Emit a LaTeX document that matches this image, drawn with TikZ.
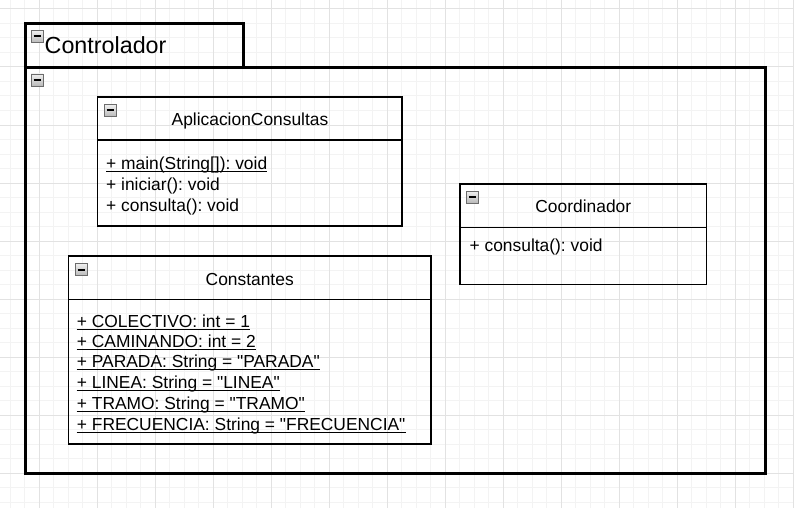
\documentclass[tikz,border=0pt]{standalone}
\usepackage{fontspec}
\setmainfont{Liberation Sans}[Ligatures=TeXOff]
\definecolor{gminor}{HTML}{F3F3F3}
\definecolor{gmajor}{HTML}{E2E2E2}
\tikzset{
  cls/.style={draw=black, line width=1.5pt, rectangle, inner sep=0pt, outer sep=0pt, anchor=north west},
  pkg/.style={draw=black, line width=3pt, rectangle, inner sep=0pt, outer sep=0pt, anchor=north west},
  txt/.style={anchor=base west, inner sep=0pt, font=\fontsize{17.4}{20}\selectfont},
  ttl/.style={anchor=base, inner sep=0pt, font=\fontsize{17.4}{20}\selectfont},
  ulline/.style={draw=black, line width=1.3pt},
  icon/.style={rectangle, draw=gray!85!black, line width=0.8pt, top color=gray!12, bottom color=gray!55,
    minimum size=12pt, inner sep=0pt, outer sep=0pt, anchor=north west,
    path picture={\draw[line width=2pt, black] ([xshift=-3.5pt]path picture bounding box.center) -- ([xshift=3.5pt]path picture bounding box.center);}},
}
\begin{document}
\frenchspacing
\begin{tikzpicture}[x=1pt,y=-1pt]
\useasboundingbox (0,0) rectangle (794,508);
\fill[white] (0,0) rectangle (794,508);
% grid
\foreach \i in {-2,...,52} \draw[gminor, line width=1pt] ({39+14.5*\i},0) -- ({39+14.5*\i},508);
\foreach \i in {0,...,34} \draw[gminor, line width=1pt] (0,{9+14.5*\i}) -- (794,{9+14.5*\i});
\foreach \i in {0,...,13} \draw[gmajor, line width=1pt] ({39+58*\i},0) -- ({39+58*\i},508);
\foreach \i in {0,...,8} \draw[gmajor, line width=1pt] (0,{9+58*\i}) -- (794,{9+58*\i});

% package
\node[pkg, minimum width=218pt, minimum height=43.5pt] (tab) at (25,24) {};
\node[pkg, minimum width=740pt, minimum height=405.5pt] (body) at (25,67.5) {};
\node[icon] (tabicon) at (31,30.5) {};
\node[icon] (bodyicon) at (31,74) {};
\node[anchor=base west, inner sep=0pt, font=\fontsize{23.3}{26}\selectfont] (pkgname) at (44.5,54) {Controlador};

% AplicacionConsultas
\node[cls, minimum width=304.5pt, minimum height=129pt] (aplic) at (97.5,97) {};
\draw[line width=1.5pt] (aplic.west |- 0,140) -- (aplic.east |- 0,140);
\node[icon] (aplicicon) at (104,104.5) {};
\node[ttl] (aplict) at (250,125) {AplicacionConsultas};
\node[txt] (am1) at (106,169) {+ main(String[]): void};
\node[txt] (am2) at (106,190) {+ iniciar(): void};
\node[txt] (am3) at (106,211) {+ consulta(): void};

% Constantes
\node[cls, minimum width=362.5pt, minimum height=188pt] (const) at (68.5,256) {};
\draw[line width=1.5pt] (const.west |- 0,299.5) -- (const.east |- 0,299.5);
\node[icon] (consticon) at (75,263.5) {};
\node[ttl] (constt) at (249.7,285) {Constantes};
\node[txt] (c1) at (76.7,327) {+ COLECTIVO: int = 1};
\node[txt] (c2) at (76.7,347) {+ CAMINANDO: int = 2};
\node[txt] (c3) at (76.7,367) {+ PARADA: String = "PARADA"};
\node[txt] (c4) at (76.7,388) {+ LINEA: String = "LINEA"};
\node[txt] (c5) at (76.7,409) {+ TRAMO: String = "TRAMO"};
\node[txt] (c6) at (76.7,430) {+ FRECUENCIA: String = "FRECUENCIA"};

\foreach \n in {am1,c1,c2,c3,c4,c5,c6}
  \draw[ulline] ([yshift=-2.4pt]\n.base west) -- ([yshift=-2.4pt]\n.base east);

% Coordinador
\node[cls, minimum width=246.5pt, minimum height=100.5pt] (coord) at (460,184) {};
\draw[line width=1.5pt] (coord.west |- 0,227.3) -- (coord.east |- 0,227.3);
\node[icon] (coordicon) at (466.5,191) {};
\node[ttl] (coordt) at (583.3,212.3) {Coordinador};
\node[txt] (cm1) at (469.4,251) {+ consulta(): void};
\end{tikzpicture}
\end{document}
